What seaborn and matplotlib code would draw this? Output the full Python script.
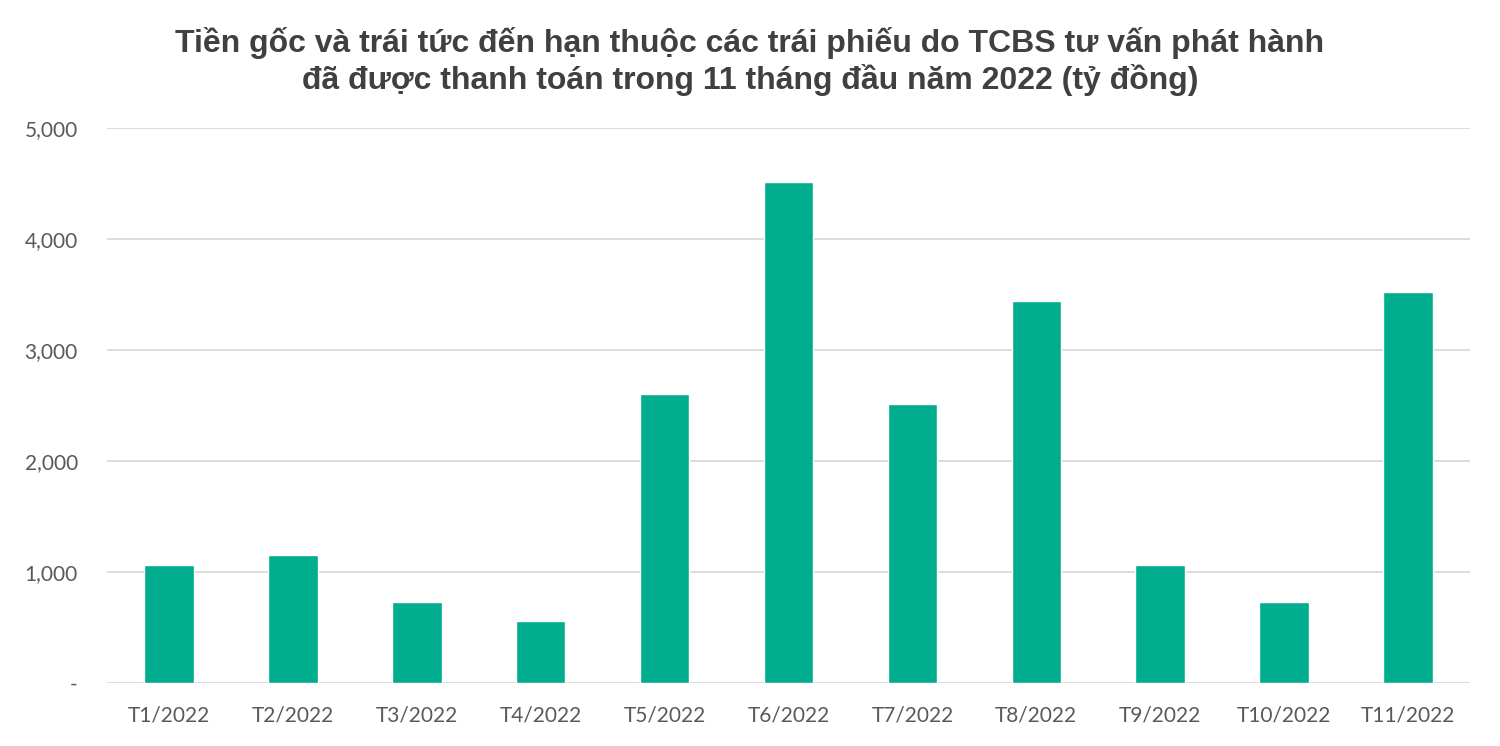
import numpy as np
import matplotlib
matplotlib.use("Agg")
import matplotlib.pyplot as plt
import matplotlib.ticker as mticker
import seaborn as sns
import pandas as pd

# Data (tỷ đồng)
months = ["T1/2022", "T2/2022", "T3/2022", "T4/2022", "T5/2022", "T6/2022",
          "T7/2022", "T8/2022", "T9/2022", "T10/2022", "T11/2022"]
values = [1067, 1152, 728, 556, 2607, 4511, 2511, 3440, 1065, 727, 3525]
y_ticks = [0, 1000, 2000, 3000, 4000, 5000]

title = ("Tiền gốc và trái tức đến hạn thuộc các trái phiếu do TCBS tư vấn phát hành\n"
         "đã được thanh toán trong 11 tháng đầu năm 2022 (tỷ đồng)")

BAR_COLOR = "#00ad8e"
GRID_COLOR = "#d9d9d9"
TEXT_COLOR = "#595959"

sns.set_theme(style="white")
plt.rcParams['font.family'] = ['Lato', 'DejaVu Sans']

df = pd.DataFrame({"month": months, "value": values})

fig = plt.figure(figsize=(15, 7.46), dpi=100)
ax = fig.add_axes([0.0713, 0.0845, 0.9087, 0.7439])

sns.barplot(data=df, x="month", y="value", color=BAR_COLOR, width=0.4,
            saturation=1, ax=ax)

ax.set_ylim(0, 5000)
ax.set_yticks(y_ticks)
ax.yaxis.set_major_formatter(mticker.FuncFormatter(
    lambda v, _: "-" if v == 0 else f"{int(v):,}"))
ax.set_xlim(-0.5, len(months) - 0.5)
ax.set_xlabel("")
ax.set_ylabel("")

ax.grid(axis="y", color=GRID_COLOR, linewidth=1.3)
ax.set_axisbelow(True)
for s in ax.spines.values():
    s.set_visible(False)

ax.tick_params(axis="both", length=0, labelsize=15, colors=TEXT_COLOR)
ax.tick_params(axis="y", pad=21)
ax.tick_params(axis="x", pad=16)
for lbl in ax.get_yticklabels():
    lbl.set_horizontalalignment("right")

fig.text(0.5, 0.918, title, ha="center", va="center", fontsize=23,
         fontweight="bold", color="#404040", family=["Liberation Sans", "DejaVu Sans"],
         linespacing=1.2)

fig.savefig("out.png", dpi=100, facecolor="white")
